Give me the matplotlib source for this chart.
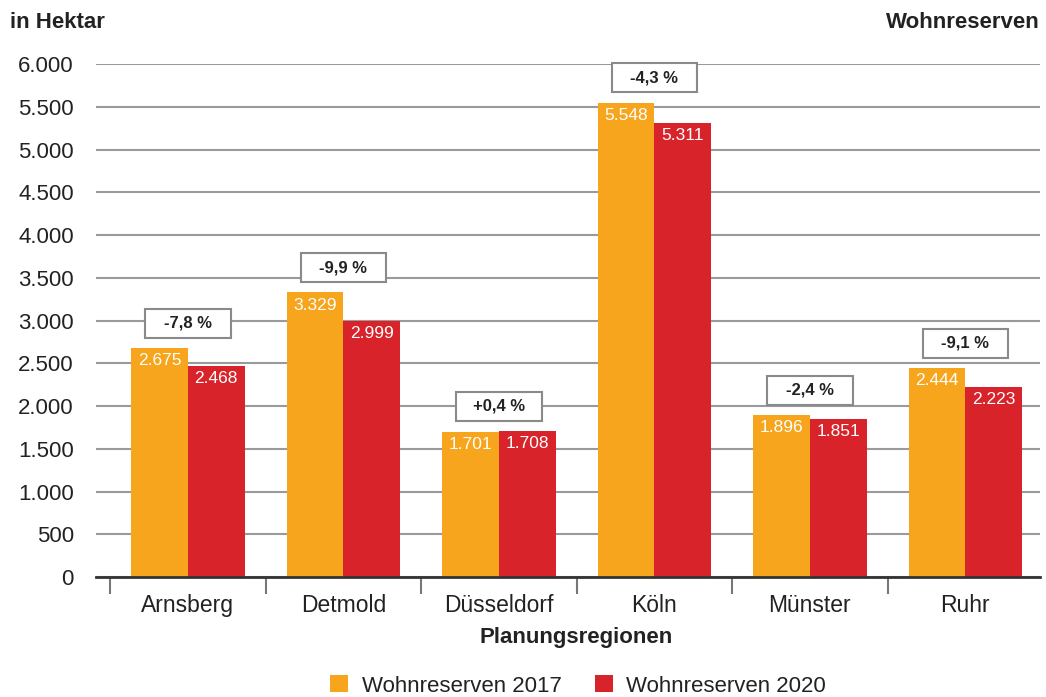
import matplotlib.pyplot as plt
from matplotlib.patches import Rectangle
from matplotlib.ticker import FixedLocator, FuncFormatter

plt.rcParams['font.family'] = ['Liberation Sans', 'DejaVu Sans']

regions = ['Arnsberg', 'Detmold', 'Düsseldorf', 'Köln', 'Münster', 'Ruhr']
res_2017 = [2675, 3329, 1701, 5548, 1896, 2444]
res_2020 = [2468, 2999, 1708, 5311, 1851, 2223]
changes = ['-7,8 %', '-9,9 %', '+0,4 %', '-4,3 %', '-2,4 %', '-9,1 %']

orange = '#F7A51C'
red = '#D9232A'

fig = plt.figure(figsize=(10.46, 6.97), dpi=100)
ax = fig.add_axes([96 / 1046, 1 - 577 / 697, 944 / 1046, 513 / 697])

w = 0.365
x = range(len(regions))
ax.bar([i - w / 2 for i in x], res_2017, w, color=orange, label='Wohnreserven 2017', zorder=3)
ax.bar([i + w / 2 for i in x], res_2020, w, color=red, label='Wohnreserven 2020', zorder=3)

def fmt(v):
    return f'{v:,}'.replace(',', '.')

for i in x:
    ax.text(i - w / 2, res_2017[i] - 60, fmt(res_2017[i]), ha='center', va='top',
            color='white', fontsize=12.5, zorder=4)
    ax.text(i + w / 2, res_2020[i] - 60, fmt(res_2020[i]), ha='center', va='top',
            color='white', fontsize=12.5, zorder=4)
    top = max(res_2017[i], res_2020[i]) + 290
    ax.add_patch(Rectangle((i - 0.275, top - 170), 0.55, 340, facecolor='white',
                           edgecolor='#8a8a8a', linewidth=1.5, zorder=5, clip_on=False))
    ax.text(i, top, changes[i], ha='center', va='center', fontsize=12,
            fontweight='bold', color='#222222', zorder=6, clip_on=False)

ax.set_xlim(-0.591, 5.48)
ax.set_ylim(0, 6000)
ax.set_yticks(range(0, 6001, 500))
ax.yaxis.set_major_formatter(FuncFormatter(lambda v, p: fmt(int(v))))
ax.tick_params(axis='y', length=0, pad=16, labelsize=16, labelcolor='#222222')
ax.set_xticks(list(x))
ax.set_xticklabels(regions)
ax.tick_params(axis='x', which='major', length=0, pad=12, labelsize=16.5, labelcolor='#222222')
ax.xaxis.set_minor_locator(FixedLocator([i + 0.5 for i in range(-1, 6)]))
ax.tick_params(axis='x', which='minor', length=12, width=1.5, color='#777777')

ax.grid(axis='y', color='#9a9a9a', linewidth=1.5, zorder=0)
for s in ['left', 'right', 'top']:
    ax.spines[s].set_visible(False)
ax.spines['bottom'].set_color('#333333')
ax.spines['bottom'].set_linewidth(2)
ax.spines['bottom'].set_zorder(6)

fig.text(10 / 1046, 1 - 22 / 697, 'in Hektar', fontsize=16, fontweight='bold',
         va='center', ha='left', color='#222222')
fig.text(1040 / 1046, 1 - 22 / 697, 'Wohnreserven', fontsize=16, fontweight='bold',
         va='center', ha='right', color='#222222')
fig.text(576 / 1046, 1 - 638 / 697, 'Planungsregionen', fontsize=16, fontweight='bold',
         va='center', ha='center', color='#222222')

fig.legend(loc='center', bbox_to_anchor=(578 / 1046, 1 - 686 / 697), ncol=2,
           frameon=False, fontsize=16, handlelength=0.8, handleheight=0.8,
           columnspacing=1.5, handletextpad=0.6, labelcolor='#222222')

fig.savefig('out.png', dpi=100)
